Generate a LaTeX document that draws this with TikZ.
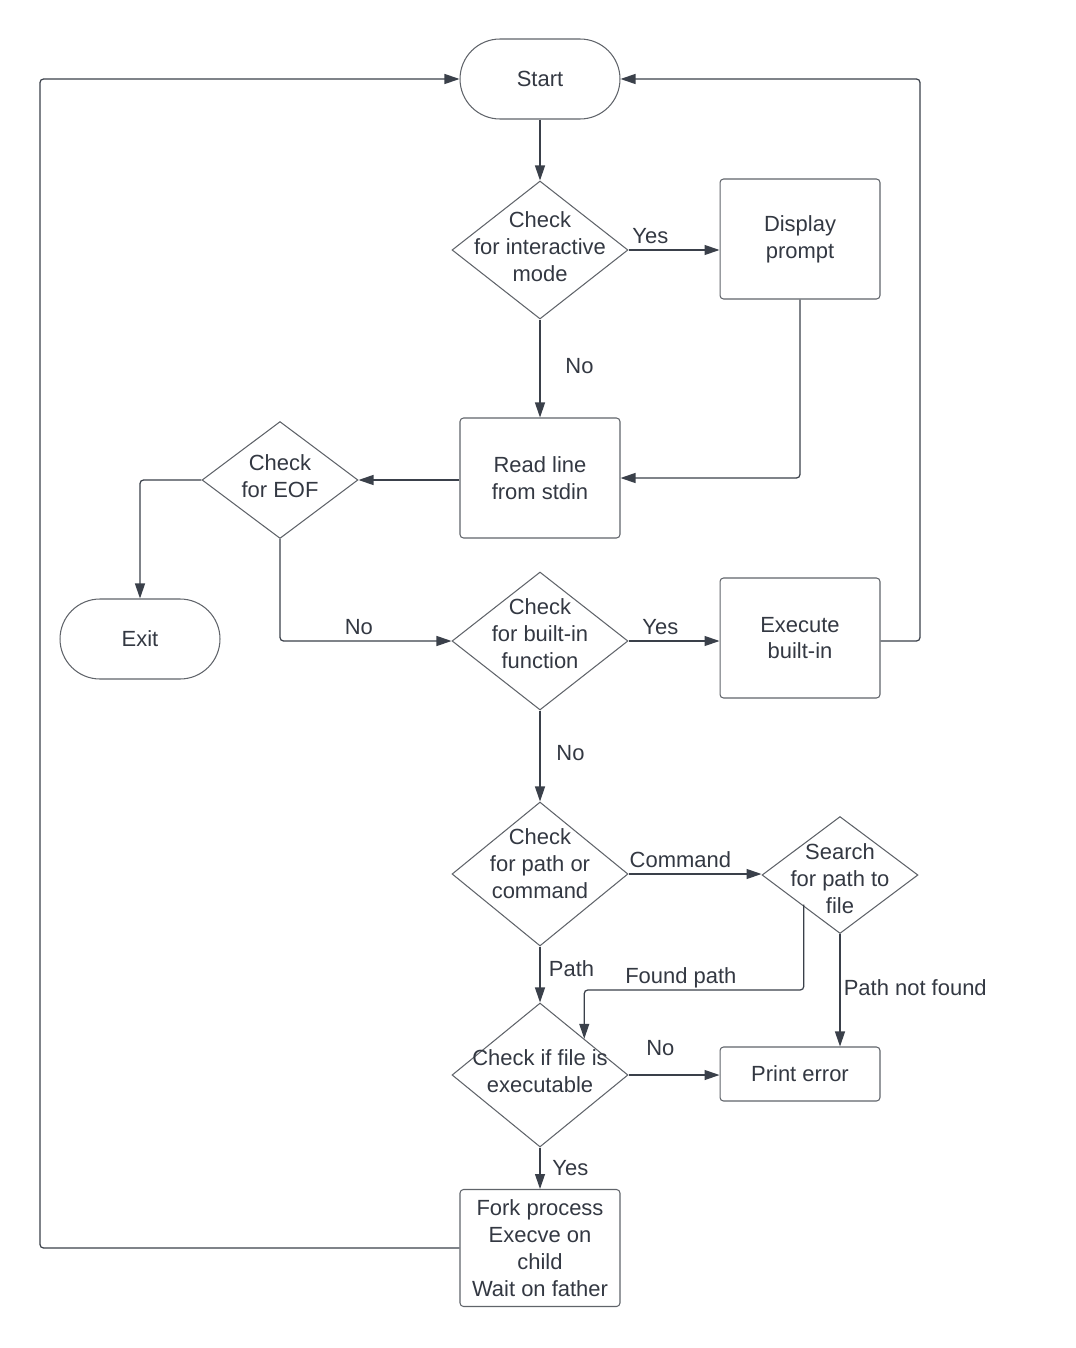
\documentclass[tikz,border=0pt]{standalone}
\usepackage{fontspec}
\setmainfont{Liberation Sans}
\usetikzlibrary{arrows.meta,shapes.geometric,positioning}
\definecolor{linec}{RGB}{58,64,74}
\definecolor{borderc}{RGB}{96,100,106}
\definecolor{textc}{RGB}{51,56,66}
\begin{document}
\begin{tikzpicture}[x=0.02cm, y=-0.02cm,
    font=\fontsize{12.5}{15.3}\selectfont, text=textc,
    terminal/.style={rectangle, draw=borderc, line width=0.6pt, rounded corners=0.8cm,
        minimum width=3.2cm, minimum height=1.6cm, align=center},
    process/.style={rectangle, draw=borderc, line width=0.6pt, rounded corners=2pt,
        minimum width=3.2cm, minimum height=2.4cm, align=center},
    decision/.style={diamond, draw=borderc, line width=0.6pt, inner sep=0pt,
        minimum width=3.52cm, minimum height=2.76cm},
    smalldecision/.style={decision, minimum width=3.12cm, minimum height=2.34cm},
    dtext/.style={align=center, text=textc, yshift=2pt},
    arr/.style={-{Triangle[length=0.3cm,width=0.2cm]}, draw=linec, line width=0.7pt, rounded corners=2pt},
    lbl/.style={text=textc}]
				\useasboundingbox (0,0) rectangle (1075,1348);
				
				% Start and exit
				\node[terminal] (start) at (540,79) {Start};
				\node[terminal] (exit) at (140,639) {Exit};
				
				% Interactive mode
				\node[decision, label={[dtext]center:Check\\for interactive\\mode}] (chkint) at (540,250) {};
				\node[process] (prompt) at (800,239) {Display\\prompt};
				
				% Reading input
				\node[process] (readln) at (540,478) {Read line\\from stdin};
				\node[smalldecision, label={[dtext]center:Check\\for EOF}] (chkeof) at (280,480) {};
				
				% Built-ins
				\node[decision, label={[dtext, yshift=2pt]center:Check\\for built-in\\function}] (chkbuilt) at (540,641) {};
				\node[process] (execbuilt) at (800,638) {Execute\\built-in};
				
				% Path or command
				\node[decision, minimum height=2.88cm, label={[dtext, yshift=4pt]center:Check\\for path or\\command}] (chkpath) at (540,874) {};
				\node[smalldecision, label={[dtext, yshift=-4pt]center:Search\\for path to\\file}] (search) at (840,875) {};
				
				% Execution
				\node[decision, minimum height=2.88cm, label={[dtext]center:Check if file is\\executable}] (chkexe) at (540,1075) {};
				\node[process, minimum height=1.08cm] (perror) at (800,1074) {Print error};
				\node[process, minimum height=2.34cm] (fork) at (540,1248) {Fork process\\Execve on\\child\\Wait on father};
				
				% Rails and turning points
				\coordinate (leftrail) at (40,0);
				\coordinate (rightrail) at (920,0);
				\coordinate (foundturn) at (0,990);
				\coordinate (foundstart) at ([xshift=0.06cm]search.south west);
				
				% Connectors
				\draw[arr] (start) -- (chkint);
				\draw[arr] (chkint.east) -- (prompt.west |- chkint.east) node[lbl, above, pos=0.24] {Yes};
				\draw[arr] (chkint) -- (readln) node[lbl, right=0.38cm, pos=0.48] {No};
				\draw[arr] (prompt.south) |- (readln.east);
				\draw[arr] (readln.west |- chkeof.east) -- (chkeof.east);
				\draw[arr] (chkeof.west) -| (exit.north);
				\draw[arr] (chkeof.south) |- (chkbuilt.west) node[lbl, above, pos=0.73] {No};
				\draw[arr] (chkbuilt.east) -- (execbuilt.west |- chkbuilt.east) node[lbl, above, pos=0.35] {Yes};
				\draw[arr] (execbuilt.east |- chkbuilt.east) -- (chkbuilt.east -| rightrail) -- (start.east -| rightrail) -- (start.east);
				\draw[arr] (chkbuilt) -- (chkpath) node[lbl, right=0.2cm, pos=0.47] {No};
				\draw[arr] (chkpath.east) -- (search.west |- chkpath.east) node[lbl, above, pos=0.39] {Command};
				\draw[arr] (chkpath) -- (chkexe) node[lbl, right=0.05cm, pos=0.4] {Path};
				\draw[arr] (foundstart) -- (foundstart |- foundturn) -| (chkexe.north east)
				    node[lbl, above, yshift=-0.1cm, pos=0.28] {Found path};
				\draw[arr] (search.south) -- (perror.north -| search.south) node[lbl, right=-1.5pt, pos=0.48] {Path not found};
				\draw[arr] (chkexe.east) -- (perror.west |- chkexe.east) node[lbl, above, yshift=0.25cm, pos=0.35] {No};
				\draw[arr] (chkexe) -- (fork) node[lbl, right=0.12cm, pos=0.5] {Yes};
				\draw[arr] (fork.west) -- (fork.west -| leftrail) -- (start.west -| leftrail) -- (start.west);
			\end{tikzpicture}
\end{document}
